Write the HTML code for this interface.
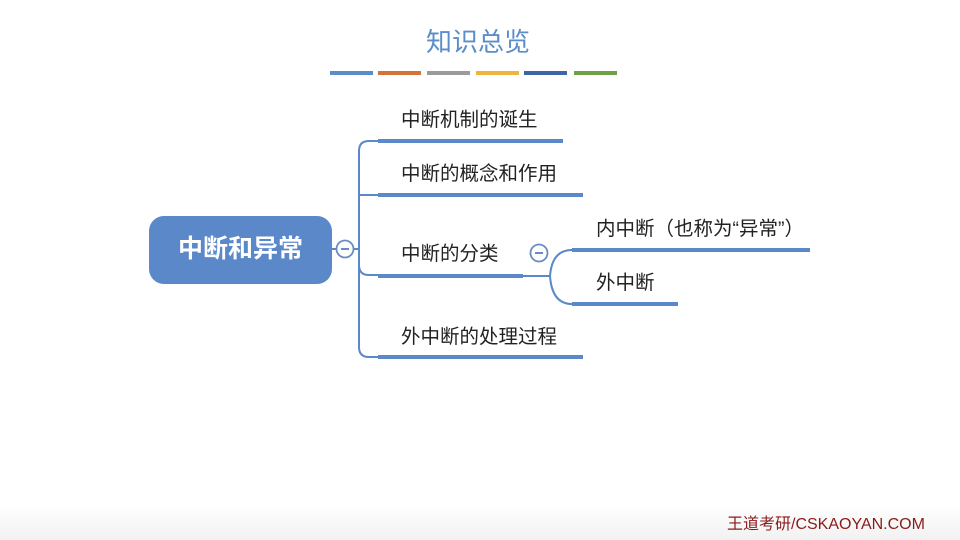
<!DOCTYPE html>
<html><head><meta charset="utf-8"><style>
html,body{margin:0;padding:0;background:#fff;}
body{width:960px;height:540px;position:relative;overflow:hidden;font-family:"Liberation Sans","Noto Sans CJK SC",sans-serif;}
.t{position:absolute;font-size:19.5px;color:#222;white-space:nowrap;line-height:1;}
</style></head><body>
<div style="position:absolute;left:0;top:0;width:960px;height:540px;background:linear-gradient(#fff 505px,#f1f1f1 540px);"></div>
<div class="t" style="left:426px;top:29px;font-size:26px;color:#5b8dc9;">知识总览</div>
<svg width="960" height="540" style="position:absolute;left:0;top:0">
 <g stroke-width="4">
  <line x1="330" y1="73" x2="373" y2="73" stroke="#5b8dc9"/>
  <line x1="378" y1="73" x2="421" y2="73" stroke="#d2733a"/>
  <line x1="427" y1="73" x2="470" y2="73" stroke="#9b9b9b"/>
  <line x1="476" y1="73" x2="519" y2="73" stroke="#efb33e"/>
  <line x1="524" y1="73" x2="567" y2="73" stroke="#3d65a8"/>
  <line x1="574" y1="73" x2="617" y2="73" stroke="#6fa246"/>
 </g>
 <rect x="149" y="216" width="183" height="68" rx="15" fill="#5a88c8"/>
 <g fill="none" stroke="#5a88c8" stroke-width="2">
  <line x1="332" y1="249" x2="359" y2="249"/>
  <path d="M378 141 H369 Q359 141 359 151 V347 Q359 357 369 357 H378"/>
  <path d="M359 195 Q359 195 369 195 H378"/>
  <path d="M359 265 Q359 275 369 275 H378"/>
  <line x1="523" y1="276" x2="550" y2="276"/>
  <path d="M572 250 Q552 250 550 276 Q552 304 572 304"/>
 </g>
 <g stroke="#5a88c8" stroke-width="4">
  <line x1="378" y1="141" x2="563" y2="141"/>
  <line x1="378" y1="195" x2="583" y2="195"/>
  <line x1="378" y1="276" x2="523" y2="276"/>
  <line x1="378" y1="357" x2="583" y2="357"/>
  <line x1="572" y1="250" x2="810" y2="250"/>
  <line x1="572" y1="304" x2="678" y2="304"/>
 </g>
 <g fill="#fff" stroke="#6a8cc0" stroke-width="1.8">
  <circle cx="345" cy="249" r="8.5"/>
  <circle cx="539" cy="253" r="8.5"/>
 </g>
 <g stroke="#6a8cc0" stroke-width="2">
  <line x1="341" y1="249" x2="349" y2="249"/>
  <line x1="535" y1="253" x2="543" y2="253"/>
 </g>
</svg>
<div class="t" style="left:178px;top:237px;font-size:25px;color:#fff;font-weight:bold;">中断和异常</div>
<div class="t" style="left:401px;top:111px;">中断机制的诞生</div>
<div class="t" style="left:401px;top:165px;">中断的概念和作用</div>
<div class="t" style="left:401px;top:245px;">中断的分类</div>
<div class="t" style="left:401px;top:328px;">外中断的处理过程</div>
<div class="t" style="left:596px;top:220px;">内中断（也称为“异常”）</div>
<div class="t" style="left:596px;top:274px;">外中断</div>
<div class="t" style="left:727px;top:517px;font-size:16px;color:#8b1a1a;">王道考研/CSKAOYAN.COM</div>
</body></html>
